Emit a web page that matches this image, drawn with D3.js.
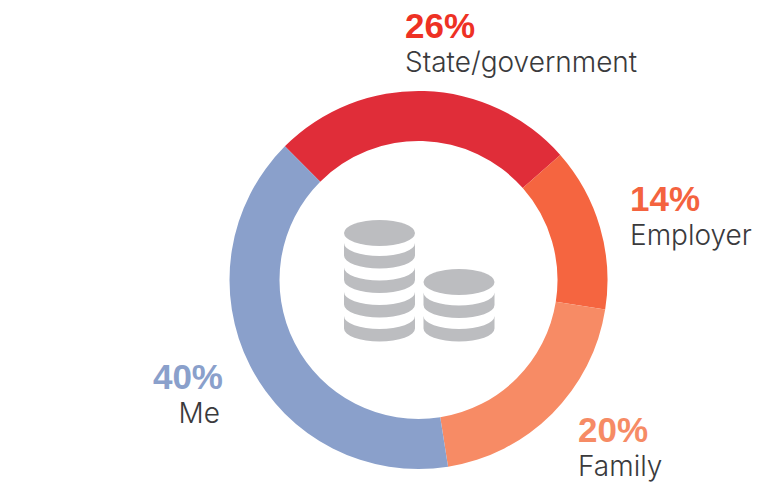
<!DOCTYPE html>
<html>
<head>
<meta charset="utf-8">
<style>
  html, body { margin: 0; padding: 0; background: #fff; }
  svg { display: block; }
  .pct { font-family: "Liberation Sans", sans-serif; font-weight: 700; font-size: 35px; }
  .name { font-family: Inter, sans-serif; font-weight: 300; font-size: 28px; fill: #3a3a3c; }
</style>
</head>
<body>
<svg id="chart" width="779" height="484"></svg>
<script src="https://cdn.jsdelivr.net/npm/d3@7"></script>
<script>
// order is clockwise from the upper left edge of the red slice
const categories = ['State/government', 'Employer', 'Family', 'Me'];
const shares = [26, 14, 20, 40];
const sliceColors = ['#e02d39', '#f56540', '#f78b65', '#8aa0cb'];
const pctColors = ['#ee3124', '#f4633f', '#f68b65', '#8aa0cb'];

const width = 779, height = 484;
const cx = 418.5, cy = 280;
const outerR = 189, innerR = 139;

// label anchor points, these are hand placed like in the original
const labelX = [405, 630, 578, 223];
const labelY = [38, 211, 442, 389];
const labelAnchor = ['start', 'start', 'start', 'end'];

const svg = d3.select('#chart');

const pie = d3.pie()
    .value(d => d)
    .sort(null)
    .startAngle(-Math.PI / 4)
    .endAngle(2 * Math.PI - Math.PI / 4);

const arc = d3.arc().innerRadius(innerR).outerRadius(outerR);

const donut = svg.append('g').attr('transform', `translate(${cx},${cy})`);

donut.selectAll('path')
    .data(pie(shares))
    .enter()
    .append('path')
    .attr('d', arc)
    .attr('fill', (d, i) => sliceColors[i]);

// Percent + name labels
const labels = svg.selectAll('g.label')
    .data(categories)
    .enter()
    .append('g')
    .attr('class', 'label')
    .attr('transform', (d, i) => `translate(${labelX[i]},${labelY[i]})`)
    .attr('text-anchor', (d, i) => labelAnchor[i]);

labels.append('text')
    .attr('class', 'pct')
    .attr('fill', (d, i) => pctColors[i])
    .text((d, i) => shares[i] + '%');

labels.append('text')
    .attr('class', 'name')
    .attr('x', (d, i) => i === 3 ? -3 : 0)
    .attr('y', 34)
    .text(d => d);

// Coin icon in the middle
const coinColor = '#bcbdc0';
const coinRx = 35.5, coinRy = 13, bandH = 12.5;

function drawStack(x, topY, bandTops) {
    const g = svg.append('g').attr('fill', coinColor);
    g.append('ellipse')
        .attr('cx', x).attr('cy', topY)
        .attr('rx', coinRx).attr('ry', coinRy);
    g.selectAll('path')
        .data(bandTops)
        .enter()
        .append('path')
        .attr('d', y => `M${x - coinRx},${y}
            A${coinRx},${coinRy} 0 0 0 ${x + coinRx},${y}
            V${y + bandH}
            A${coinRx},${coinRy} 0 0 1 ${x - coinRx},${y + bandH}Z`);
}

drawStack(379.5, 233, [243, 267.5, 292, 316]);
drawStack(459, 282, [292.5, 316]);
</script>
</body>
</html>
